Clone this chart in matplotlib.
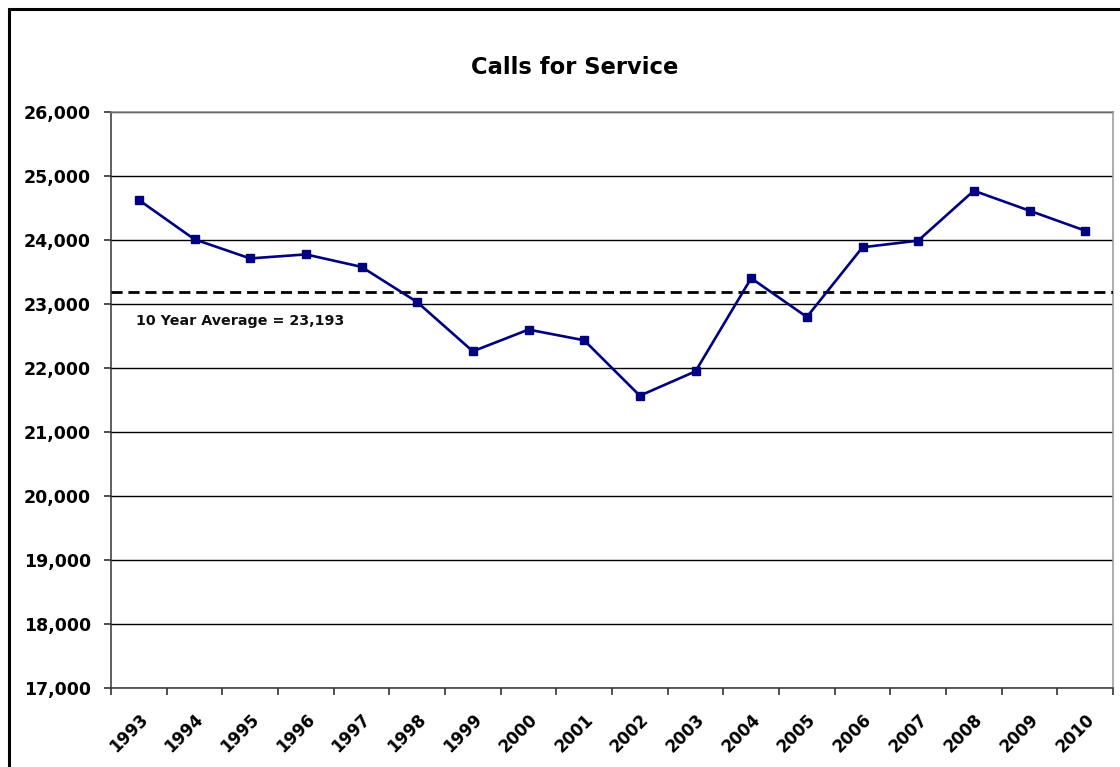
import matplotlib.pyplot as plt
from matplotlib.patches import Rectangle
from matplotlib.ticker import FuncFormatter

years = [str(y) for y in range(1993, 2011)]
calls = [24625, 24010, 23712, 23775, 23580, 23030, 22261, 22600, 22433,
         21567, 21948, 23403, 22797, 23886, 23990, 24770, 24458, 24146]
average = 23193

fig = plt.figure(figsize=(11.2, 7.67), dpi=100)
ax = fig.add_axes([111 / 1120, 1 - 688 / 767, 1002 / 1120, 576 / 767])

x = list(range(len(years)))
ax.plot(x, calls, color="#000080", linewidth=1.9, marker="s", markersize=6,
        markeredgecolor="#000080", zorder=4)
ax.axhline(average, color="black", linewidth=2, linestyle=(0, (4, 2.1)), zorder=3)
ax.text(-0.05, 22730, "10 Year Average = 23,193", fontsize=10.3,
        fontweight="bold", ha="left", va="center", color="#111111")

ax.set_xlim(-0.5, len(years) - 0.5)
ax.set_ylim(17000, 26000)
ax.set_yticks(range(17000, 26001, 1000))
ax.yaxis.set_major_formatter(FuncFormatter(lambda v, p: f"{int(v):,}"))
ax.grid(axis="y", color="black", linewidth=1.0)
ax.set_axisbelow(True)

# ticks between categories, labels at the centers
ax.set_xticks([i - 0.5 for i in range(len(years) + 1)])
ax.set_xticklabels([])
ax.set_xticks(x, minor=True)
ax.set_xticklabels(years, minor=True, rotation=45, ha="right",
                   rotation_mode="anchor", fontsize=12, fontweight="bold")
ax.tick_params(axis="x", which="minor", length=0, pad=16)
ax.tick_params(axis="x", which="major", length=5, width=1.1, color="#222222")
ax.tick_params(axis="y", length=5, width=1.1, color="#222222", labelsize=12.5,
               pad=9.5)
for lbl in ax.get_yticklabels():
    lbl.set_fontweight("bold")

ax.spines["left"].set_color("#333333")
ax.spines["bottom"].set_color("#333333")
ax.spines["right"].set_color("#999999")
ax.spines["top"].set_color("#888888")
for s in ax.spines.values():
    s.set_linewidth(1.1)

fig.text(575 / 1120, 1 - 67 / 767, "Calls for Service", fontsize=16.3,
         fontweight="bold", ha="center", va="center")

# outer chart frame (cut off at right and bottom)
fig.patches.append(Rectangle((9 / 1120, -0.05), 1.2, 1 - 9 / 767 + 0.05,
                             transform=fig.transFigure, fill=False,
                             edgecolor="black", linewidth=2.2))

plt.savefig("out.png", dpi=100)
